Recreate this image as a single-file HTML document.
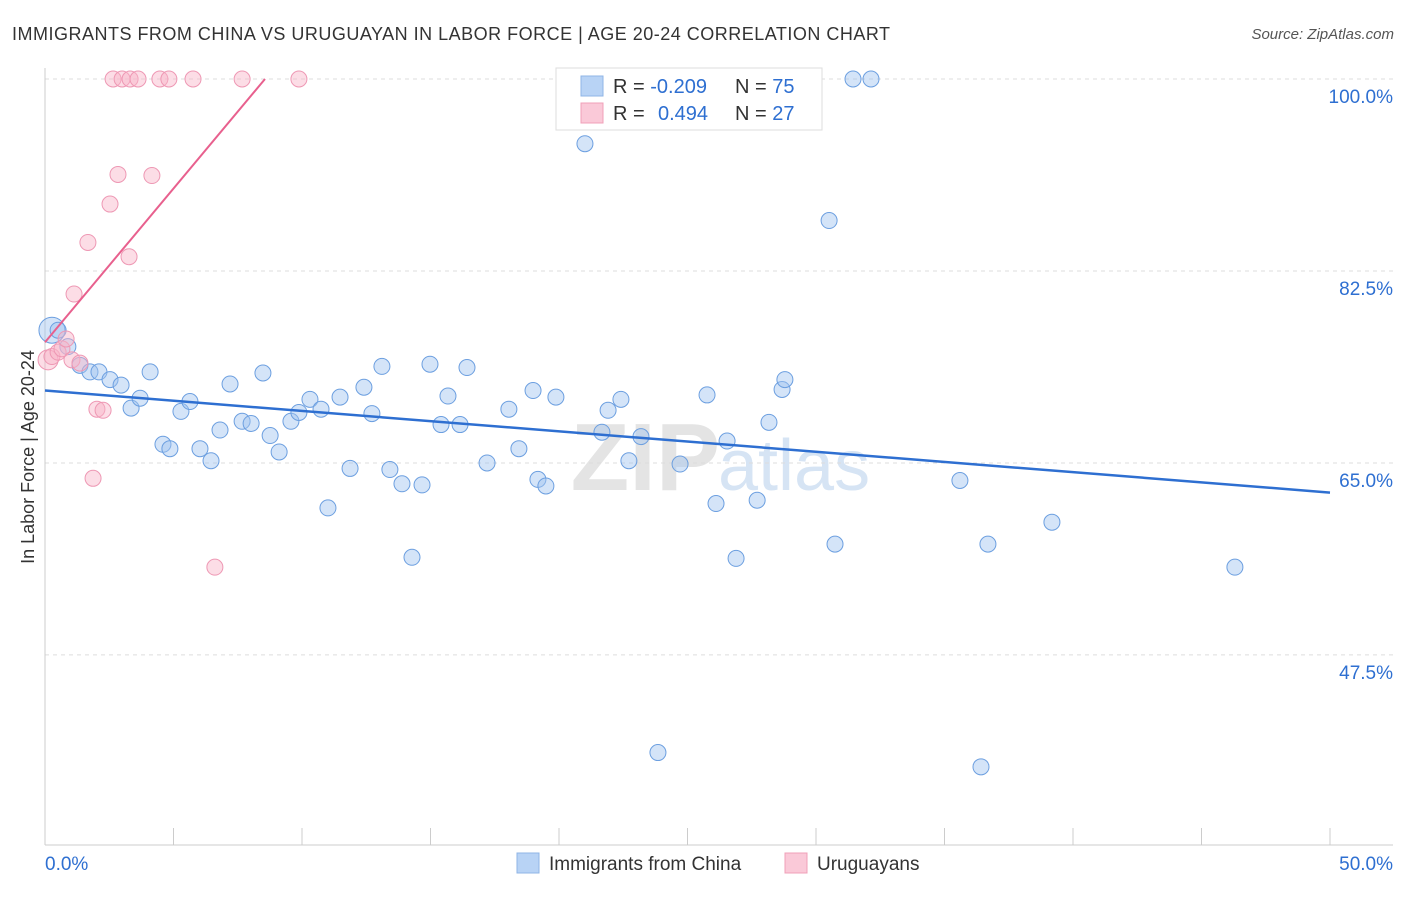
<!DOCTYPE html>
<html><head><meta charset="utf-8"><style>
body{margin:0;background:#fff;font-family:"Liberation Sans",sans-serif;}
svg text{font-family:"Liberation Sans",sans-serif;}
</style></head><body>
<svg id="chart" width="1406" height="892" xmlns="http://www.w3.org/2000/svg">
<text x="12" y="40" font-size="18" fill="#333" textLength="878">IMMIGRANTS FROM CHINA VS URUGUAYAN IN LABOR FORCE | AGE 20-24 CORRELATION CHART</text>
<text x="1394" y="39" font-size="15" fill="#555" text-anchor="end" font-style="italic">Source: ZipAtlas.com</text>
<text x="720" y="490" font-size="96" fill="#e4e4e4" text-anchor="end" font-family="Liberation Serif" font-weight="bold">ZIP</text>
<text x="718" y="490" font-size="72" fill="#d6e4f4">atlas</text>
<g id="grid"></g><g id="axes"></g><g id="marks"></g>
<text transform="translate(34,457) rotate(-90)" font-size="18" fill="#333" text-anchor="middle">In Labor Force | Age 20-24</text>
<g>
<rect x="556" y="68" width="266" height="62" fill="#fff" stroke="#ddd"/>
<rect x="581" y="76" width="22" height="20" fill="#b8d3f5" stroke="#8fb5e6"/>
<rect x="581" y="103" width="22" height="20" fill="#fac9d8" stroke="#f0a0b8"/>
<text x="613" y="93" font-size="20" fill="#333">R = <tspan fill="#2e6fd1">-0.209</tspan></text>
<text x="735" y="93" font-size="20" fill="#333">N = <tspan fill="#2e6fd1">75</tspan></text>
<text x="613" y="120" font-size="20" fill="#333">R = <tspan fill="#2e6fd1" x="658">0.494</tspan></text>
<text x="735" y="120" font-size="20" fill="#333">N = <tspan fill="#2e6fd1">27</tspan></text>
</g>
<g>
<rect x="517" y="853" width="22" height="20" fill="#b8d3f5" stroke="#8fb5e6"/>
<text x="549" y="870" font-size="19" fill="#333">Immigrants from China</text>
<rect x="785" y="853" width="22" height="20" fill="#fac9d8" stroke="#f0a0b8"/>
<text x="817" y="870" font-size="19" fill="#333">Uruguayans</text>
</g>
</svg>
<script>
const blueX=[0.27,0.51,0.89,1.36,1.75,2.10,2.53,2.96,3.35,3.70,4.09,4.59,4.86,5.29,5.64,6.03,6.46,6.81,7.20,7.67,8.02,8.48,8.76,9.11,9.57,9.88,10.31,10.74,11.01,11.48,11.87,12.41,12.72,13.11,13.42,13.89,14.28,14.67,14.98,15.41,15.68,16.15,16.42,17.20,18.05,18.44,18.99,19.18,19.49,19.88,21.01,21.67,21.91,22.41,22.72,23.19,23.85,24.71,25.76,26.11,26.54,26.89,27.71,28.17,28.68,28.79,30.51,30.74,31.44,32.14,35.60,36.42,36.69,39.18,46.30];
const blueY=[77.1,77.1,75.6,73.9,73.3,73.3,72.6,72.1,70.0,70.9,73.3,66.7,66.3,69.7,70.6,66.3,65.2,68.0,72.2,68.8,68.6,73.2,67.5,66.0,68.8,69.6,70.8,69.9,60.9,71.0,64.5,71.9,69.5,73.8,64.4,63.1,56.4,63.0,74.0,68.5,71.1,68.5,73.7,65.0,69.9,66.3,71.6,63.5,62.9,71.0,94.1,67.8,69.8,70.8,65.2,67.4,38.6,64.9,71.2,61.3,67.0,56.3,61.6,68.7,71.7,72.6,87.1,57.6,100,100,63.4,37.3,57.6,59.6,55.5];
const pinkX=[0.12,0.27,0.51,0.66,0.82,1.05,1.13,1.36,1.67,2.02,2.26,1.87,2.53,2.84,3.27,4.16,6.61,2.65,3.00,3.31,3.62,4.47,4.82,5.76,7.67,9.88];
const pinkY=[74.4,74.7,75.1,75.4,76.3,74.4,80.4,74.1,85.1,69.9,69.8,63.6,88.6,91.3,83.8,91.2,55.5,100,100,100,100,100,100,100,100,100];
const blueTrend=[71.6,62.3];
const pinkTrend=[76.0,100,8.56];
const xTicks=["0.0%","50.0%"];
const yTicks=[100,82.5,65,47.5];
const X=v=>45+v/50*1285, Y=v=>79+(100-v)*10.97;
const NS="http://www.w3.org/2000/svg";
function mk(p,t,a){const e=document.createElementNS(NS,t);for(const k in a)e.setAttribute(k,a[k]);p.appendChild(e);return e;}
const grid=document.getElementById('grid'),axes=document.getElementById('axes'),marks=document.getElementById('marks');
yTicks.forEach(v=>{
 const l=mk(grid,'line',{x1:45,x2:1393,y1:Y(v),y2:Y(v),stroke:'#ddd','stroke-dasharray':'4,4'});
 
 
 const t=mk(axes,'text',{x:1393,y:Y(v)+24,'font-size':19,fill:'#2e6fd1','text-anchor':'end'});
 t.textContent=v.toFixed(1)+'%';
 
 
});
mk(axes,'line',{x1:45,x2:45,y1:68,y2:845,stroke:'#ccc'});
mk(axes,'line',{x1:45,x2:1393,y1:845,y2:845,stroke:'#ccc'});
for(let i=0;i<=10;i++){const x=X(i*5);const tk=mk(axes,'line',{x1:x,x2:x,y1:828,y2:845,stroke:'#ccc'});
 
 }
[[0,'start',45],[50,'end',1393]].forEach((d,i)=>{const t=mk(axes,'text',{x:d[2],y:870,'font-size':19,fill:'#2e6fd1','text-anchor':d[1]});t.textContent=xTicks[i];
 
 });
blueX.forEach((x,i)=>{const c=mk(marks,'circle',{cx:X(x),cy:Y(blueY[i]),r:i<1?13:8,fill:'rgba(160,195,240,0.45)',stroke:'#6c9fe0','stroke-width':1});
 
 });
pinkX.forEach((x,i)=>{const c=mk(marks,'circle',{cx:X(x),cy:Y(pinkY[i]),r:i<1?10:8,fill:'rgba(248,180,200,0.45)',stroke:'#ee98b4','stroke-width':1});
 
 });
const bl=mk(marks,'line',{x1:X(0),y1:Y(blueTrend[0]),x2:X(50),y2:Y(blueTrend[1]),stroke:'#2e6fd1','stroke-width':2.5});


const pl=mk(marks,'line',{x1:X(0),y1:Y(pinkTrend[0]),x2:X(pinkTrend[2]),y2:Y(pinkTrend[1]),stroke:'#e8608e','stroke-width':2});


</script>
</body></html>
